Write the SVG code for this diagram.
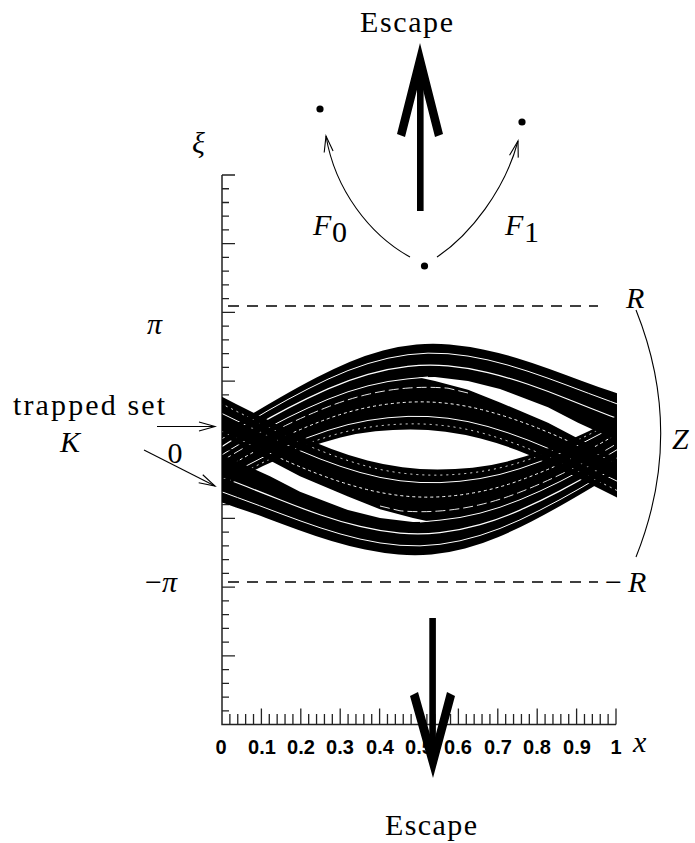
<svg xmlns="http://www.w3.org/2000/svg" width="695" height="843" viewBox="0 0 695 843">
<style>
.t{font-family:"Liberation Serif","Times New Roman",serif;font-size:30px;fill:#000}
.i{font-style:italic}
.ax{stroke:#222;stroke-width:1.5;fill:none}
.tk{stroke:#222;stroke-width:1.3;fill:none}
.num{font-family:"Liberation Sans",Arial,sans-serif;font-weight:bold;font-size:20px;text-anchor:middle;fill:#000}
.thin{stroke:#000;stroke-width:1.1;fill:none}
.dash{stroke:#000;stroke-width:1.3;stroke-dasharray:11 8;fill:none}
</style>
<defs>
<marker id="oa" viewBox="-17 -6 19 12" refX="0" refY="0" markerWidth="19" markerHeight="12" markerUnits="userSpaceOnUse" orient="auto">
<path d="M-16,-4.5 L0,0 L-16,4.5" fill="none" stroke="#000" stroke-width="1.1"/>
</marker>
<mask id="mU" maskUnits="userSpaceOnUse" x="150" y="300" width="550" height="300">
<path fill="#fff" d="M215,393 L236,404 Q250,411 266,419 Q282,427 297.5,434.5 Q313,442 331.5,449 Q350,456 367.5,460.5 Q385,465 402.5,467.25 Q420,469.5 437.5,469.5 Q455,469.5 472.5,467.75 Q490,466 507.5,461.5 Q525,457 542.5,450.5 Q560,444 575,437.5 Q590,431 603.5,423.5 Q617,416 628.5,409 L640,402 L640,456 L628.5,464 Q617,472 602.5,481 Q588,490 568,501.5 Q548,513 531.5,521.5 Q515,530 498.5,537 Q482,544 465,548.5 Q448,553 431.5,554.5 Q415,556 398.5,554.5 Q382,553 365,549.5 Q348,546 331.5,541 Q315,536 298.5,530 Q282,524 266,518 Q250,512 236,507.5 L215,500 Z"/>
<path fill="#000" d="M215,432.6 L240,445 L270,460.4 L300,476.2 L348,496.6 L380,509.2 L413,517.9 L430,521.7 L413,522 L380,518 L348,510.1 L300,491.8 L270,476.2 L240,462.5 L215,451.9 Z"/>
<g fill="none" stroke="#000">
<path stroke-width="0.9" stroke-dasharray="2 4" d="M215,400.5 L237.5,411.75 Q260,423 280,432.8 Q300,442.6 320,450.5 Q340,458.4 360,464.3 Q380,470.2 400,472.85 Q420,475.5 440,475.1 Q460,474.7 480,471.65 Q500,468.6 520,462.35 Q540,456.1 560,447.85 Q580,439.6 600,428.75 Q620,417.9 630,411.85 L640,405.8"/>
<path stroke-width="1" d="M215,410.1 L237.5,421.05 Q260,432 280,441.55 Q300,451.1 320,458.9 Q340,466.7 360,472.45 Q380,478.2 400,480.75 Q420,483.3 440,482.6 Q460,481.9 480,478.55 Q500,475.2 520,468.6 Q540,462 560,453.5 Q580,445 600,434 Q620,423 630,416.8 L640,410.6"/>
<path stroke-width="1" stroke-dasharray="3 3" d="M215,428.3 L237.5,438.6 Q260,448.9 280,458.05 Q300,467.2 320,474.7 Q340,482.2 360,487.7 Q380,493.2 400,495.55 Q420,497.9 440,496.8 Q460,495.7 480,491.65 Q500,487.6 520,480.35 Q540,473.1 560,464.05 Q580,455 600,443.75 Q620,432.5 630,426.15 L640,419.8"/>
<path stroke-width="0.9" stroke-dasharray="10 4" d="M380,506 L400,510.8 Q420,512.5 440,510.95 Q460,509.4 480,504.7 Q500,500 520,492.15 Q540,484.3 560,474.7 Q580,465.1 600,453.55 Q620,442 630,435.5 L640,429"/>
<path stroke-width="1" d="M420,522 L440,520.15 Q460,518.3 480,513.15 Q500,508 520,499.75 Q540,491.5 560,481.5 Q580,471.5 600,459.85 Q620,448.2 630,441.55 L640,434.9"/>
<path stroke-width="1.2" d="M215,474.3 L237.5,483.05 Q260,491.8 280,499.8 Q300,507.8 320,514.7 Q340,521.6 360,526.45 Q380,531.3 400,533.1 Q420,534.9 440,532.65 Q460,530.4 480,524.7 Q500,519 520,510.15 Q540,501.3 560,490.85 Q580,480.4 600,468.5 Q620,456.6 630,449.8 L640,443"/>
<path stroke-width="1" d="M215,489.3 L237.5,497.55 Q260,505.8 280,513.4 Q300,521 320,527.7 Q340,534.4 360,539.05 Q380,543.7 400,545.3 Q420,546.9 440,544.3 Q460,541.7 480,535.45 Q500,529.2 520,519.85 Q540,510.5 560,499.6 Q580,488.7 600,476.55 Q620,464.4 630,457.5 L640,450.6"/>
</g>
</mask>
<clipPath id="cp"><rect x="222" y="300" width="395" height="300"/></clipPath>
<g id="famU"><rect x="150" y="300" width="550" height="300" fill="#000" mask="url(#mU)"/></g>
</defs>
<rect width="695" height="843" fill="#fff"/>

<g id="axes">
<path class="ax" d="M222,175 V724.5 H616"/>
<path class="tk" d="M222,175h13 M222,188.74h7 M222,202.48h7 M222,216.21h7 M222,229.95h7 M222,243.69h13 M222,257.43h7 M222,271.17h7 M222,284.9h7 M222,298.64h7 M222,312.38h13 M222,326.12h7 M222,339.86h7 M222,353.59h7 M222,367.33h7 M222,381.07h13 M222,394.81h7 M222,408.55h7 M222,422.28h7 M222,436.02h7 M222,449.76h13 M222,463.5h7 M222,477.24h7 M222,490.97h7 M222,504.71h7 M222,518.45h13 M222,532.19h7 M222,545.93h7 M222,559.66h7 M222,573.4h7 M222,587.14h13 M222,600.88h7 M222,614.62h7 M222,628.35h7 M222,642.09h7 M222,655.83h13 M222,669.57h7 M222,683.31h7 M222,697.04h7 M222,710.78h7"/>
<path class="tk" d="M229.88,724.5V714 M237.76,724.5V714 M245.64,724.5V714 M253.52,724.5V714 M261.4,724.5V708.5 M269.28,724.5V714 M277.16,724.5V714 M285.04,724.5V714 M292.92,724.5V714 M300.8,724.5V708.5 M308.68,724.5V714 M316.56,724.5V714 M324.44,724.5V714 M332.32,724.5V714 M340.2,724.5V708.5 M348.08,724.5V714 M355.96,724.5V714 M363.84,724.5V714 M371.72,724.5V714 M379.6,724.5V708.5 M387.48,724.5V714 M395.36,724.5V714 M403.24,724.5V714 M411.12,724.5V714 M419,724.5V708.5 M426.88,724.5V714 M434.76,724.5V714 M442.64,724.5V714 M450.52,724.5V714 M458.4,724.5V708.5 M466.28,724.5V714 M474.16,724.5V714 M482.04,724.5V714 M489.92,724.5V714 M497.8,724.5V708.5 M505.68,724.5V714 M513.56,724.5V714 M521.44,724.5V714 M529.32,724.5V714 M537.2,724.5V708.5 M545.08,724.5V714 M552.96,724.5V714 M560.84,724.5V714 M568.72,724.5V714 M576.6,724.5V708.5 M584.48,724.5V714 M592.36,724.5V714 M600.24,724.5V714 M608.12,724.5V714 M616,724.5V708.5"/>
<g id="x-labels">
<text class="num" x="221" y="754">0</text>
<text class="num" x="262" y="754">0.1</text>
<text class="num" x="301" y="754">0.2</text>
<text class="num" x="340" y="754">0.3</text>
<text class="num" x="380" y="754">0.4</text>
<text class="num" x="419" y="754">0.5</text>
<text class="num" x="458" y="754">0.6</text>
<text class="num" x="498" y="754">0.7</text>
<text class="num" x="537" y="754">0.8</text>
<text class="num" x="577" y="754">0.9</text>
<text class="num" x="616" y="754">1</text>
</g>
<text class="t i" x="633" y="752">x</text>
<text class="t i" x="192" y="153">ξ</text>
<text class="t i" x="147" y="334">π</text>
<text class="t" x="145" y="592">−<tspan class="i">π</tspan></text>
<text class="t" x="175" y="463" text-anchor="middle">0</text>
</g>

<g id="trapped-set" clip-path="url(#cp)">
<use href="#famU"/>
<use href="#famU" transform="rotate(180 424 449.5)"/>
</g>

<g id="levels">
<path class="dash" d="M228,306 H598"/>
<path class="dash" d="M228,582 H598"/>
<text class="t i" x="626" y="308">R</text>
<text class="t" x="605" y="592">−<tspan class="i" x="628">R</tspan></text>
<path class="thin" d="M636,310 Q685.4,433.5 636,557"/>
<text class="t i" x="672" y="449">Z</text>
</g>

<g id="trapped-label">
<text class="t" x="13" y="415" textLength="152" lengthAdjust="spacing">trapped set</text>
<text class="t i" x="60" y="452">K</text>
</g>

<g id="connectors">
<path class="thin" d="M157,426.5 H215" marker-end="url(#oa)"/>
<path class="thin" d="M144,450 L215,486" marker-end="url(#oa)"/>
<path class="thin" d="M410,257 C370,235 335,190 326,136" marker-end="url(#oa)"/>
<path class="thin" d="M437,257 C470,235 505,190 518,141" marker-end="url(#oa)"/>
</g>

<g id="maps">
<circle cx="320" cy="109" r="3.6" fill="#000"/>
<circle cx="522" cy="122" r="3.6" fill="#000"/>
<circle cx="424.5" cy="266" r="3.6" fill="#000"/>
<text class="t i" x="313" y="235">F</text>
<text class="t" x="332" y="242" font-size="21">0</text>
<text class="t i" x="505" y="235">F</text>
<text class="t" x="524" y="242" font-size="21">1</text>
</g>

<g id="escape-up">
<rect x="417" y="62" width="6.6" height="149" fill="#000"/>
<path d="M420,43 L443,134 L435,137 L420,78 L405,137 L397,134 Z" fill="#000"/>
<text class="t" x="360" y="32" textLength="93" lengthAdjust="spacing">Escape</text>
</g>

<g id="escape-down">
<rect x="429.3" y="618" width="6.6" height="135" fill="#000"/>
<path d="M433,778 L410,696 L418,692 L433,745 L447,692 L455,696 Z" fill="#000"/>
<text class="t" x="385" y="835" textLength="92" lengthAdjust="spacing">Escape</text>
</g>
</svg>
